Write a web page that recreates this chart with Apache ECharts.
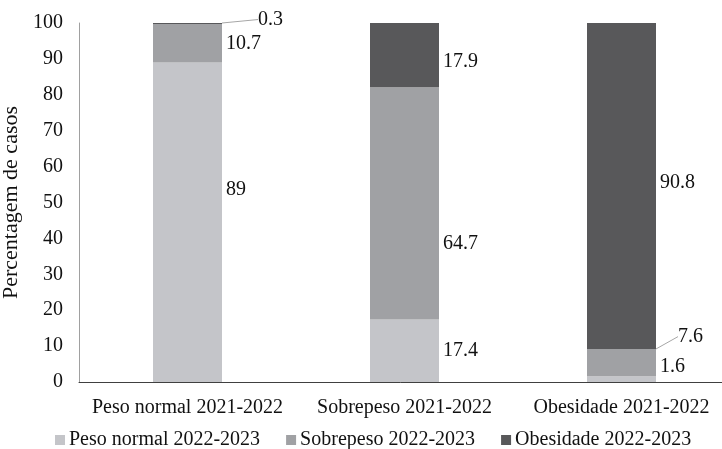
<!DOCTYPE html>
<html><head><meta charset="utf-8">
<script src="https://cdn.jsdelivr.net/npm/echarts@6/dist/echarts.min.js"></script>
<style>html,body{margin:0;padding:0;background:#fff}#c{width:722px;height:449px}</style>
</head><body><div id="c"></div>
<script>
var categories = ['Peso normal 2021-2022', 'Sobrepeso 2021-2022', 'Obesidade 2021-2022'];
var seriesNames = ['Peso normal 2022-2023', 'Sobrepeso 2022-2023', 'Obesidade 2022-2023'];
var pesoNormal = [89, 17.4, 1.6];
var sobrepeso = [10.7, 64.7, 7.6];
var obesidade = [0.3, 17.9, 90.8];
var yTicks = [0, 10, 20, 30, 40, 50, 60, 70, 80, 90, 100];

var colors = ['#c4c5c9', '#a0a1a4', '#58585a'];
// label displacement per series / category (styling)
var labelShift = [
  [[0, -32], [0, 0], [0, -12]],
  [[0, 0], [0, 40], [18, -26]],
  [[32, -4], [0, 7], [0, -3]]
];
var withLine = [[false, false, false], [false, false, true], [true, false, false]];
var font = '"Liberation Serif", "Times New Roman", serif';
var allVals = [pesoNormal, sobrepeso, obesidade];

var series = allVals.map(function (vals, s) {
  return {
    name: seriesNames[s],
    type: 'bar',
    stack: 'total',
    barWidth: 69,
    itemStyle: { color: colors[s] },
    label: { show: true, position: 'right', distance: 4, color: '#111', fontSize: 20, fontFamily: font },
    labelLine: { show: false, lineStyle: { color: '#a6a6a6', width: 1 } },
    labelLayout: function (p) {
      var sh = labelShift[p.seriesIndex][p.dataIndex];
      return { dx: sh[0], dy: sh[1] };
    },
    data: vals.map(function (v, i) {
      var d = { value: v };
      if (withLine[s][i]) d.labelLine = { show: true, lineStyle: { color: '#a6a6a6', width: 1 } };
      return d;
    })
  };
});

var chart = echarts.init(document.getElementById('c'));
chart.setOption({
  animation: false,
  textStyle: { fontFamily: font },
  grid: { left: 79, top: 23, width: 651, bottom: 67, containLabel: false, outerBoundsMode: 'none' },
  legend: {
    top: 425, left: 50, itemWidth: 10, itemHeight: 10, itemGap: 26,
    icon: 'rect',
    textStyle: { fontSize: 20, color: '#111', fontFamily: font, padding: [0, 0, 0, -1] },
    data: seriesNames
  },
  xAxis: {
    type: 'category', data: categories,
    axisLine: { lineStyle: { color: '#404040', width: 1 } },
    axisTick: { show: false },
    axisLabel: { color: '#111', fontSize: 20, fontFamily: font, margin: 16, interval: 0, hideOverlap: false }
  },
  yAxis: {
    type: 'value', min: yTicks[0], max: yTicks[yTicks.length - 1], interval: 10,
    name: 'Percentagem de casos', nameLocation: 'middle', nameGap: 50, nameRotate: 90,
    nameTextStyle: { color: '#111', fontSize: 22, fontFamily: font },
    axisLine: { show: true, lineStyle: { color: '#a0a0a0' } },
    axisTick: { show: false },
    splitLine: { show: false },
    axisLabel: { color: '#111', fontSize: 20, fontFamily: font, margin: 16 }
  },
  series: series
});
</script></body></html>
